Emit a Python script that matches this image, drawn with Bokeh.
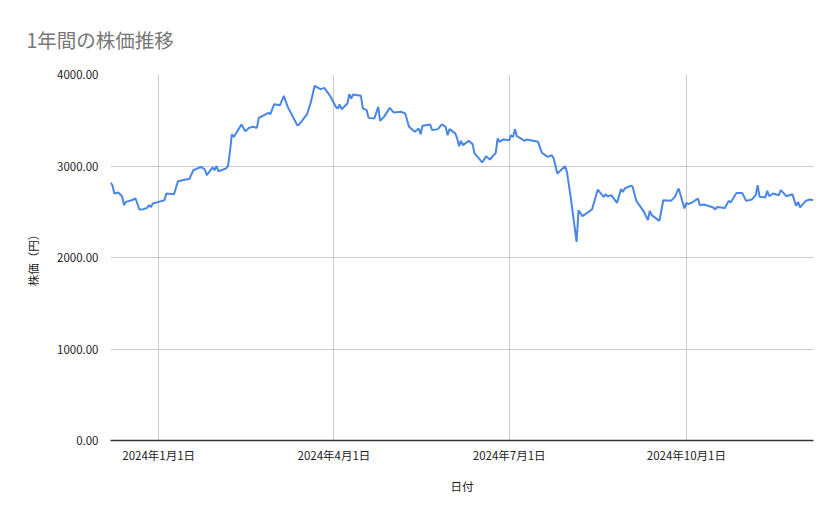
from datetime import datetime
import pandas as pd
from bokeh.plotting import figure
from bokeh.models import Range1d, FixedTicker, NumeralTickFormatter, ColumnDataSource
from bokeh.embed import file_html
from bokeh.resources import INLINE

title_text = "1年間の株価推移"
x_title = "日付"
y_title = "株価（円）"

dates = [
    "2023-12-07", "2023-12-08", "2023-12-09", "2023-12-11", "2023-12-13", "2023-12-14", "2023-12-15",
    "2023-12-18", "2023-12-20", "2023-12-22", "2023-12-24", "2023-12-26", "2023-12-27", "2023-12-28",
    "2023-12-29", "2024-01-01", "2024-01-04", "2024-01-05", "2024-01-09", "2024-01-11", "2024-01-15",
    "2024-01-17", "2024-01-19", "2024-01-23", "2024-01-25", "2024-01-26", "2024-01-29", "2024-01-30",
    "2024-01-31", "2024-02-01", "2024-02-05", "2024-02-06", "2024-02-07", "2024-02-08", "2024-02-09",
    "2024-02-13", "2024-02-15", "2024-02-17", "2024-02-19", "2024-02-21", "2024-02-22", "2024-02-27",
    "2024-02-28", "2024-03-01", "2024-03-04", "2024-03-06", "2024-03-08", "2024-03-13", "2024-03-14",
    "2024-03-18", "2024-03-20", "2024-03-22", "2024-03-25", "2024-03-27", "2024-03-30", "2024-04-02",
    "2024-04-03", "2024-04-04", "2024-04-05", "2024-04-08", "2024-04-09", "2024-04-10", "2024-04-11",
    "2024-04-15", "2024-04-16", "2024-04-18", "2024-04-19", "2024-04-22", "2024-04-24", "2024-04-25",
    "2024-04-27", "2024-04-30", "2024-05-02", "2024-05-06", "2024-05-08", "2024-05-10", "2024-05-13",
    "2024-05-15", "2024-05-16", "2024-05-17", "2024-05-21", "2024-05-22", "2024-05-25", "2024-05-27",
    "2024-05-29", "2024-05-30", "2024-05-31", "2024-06-03", "2024-06-04", "2024-06-05", "2024-06-06",
    "2024-06-07", "2024-06-10", "2024-06-12", "2024-06-13", "2024-06-17", "2024-06-19", "2024-06-21",
    "2024-06-24", "2024-06-25", "2024-06-26", "2024-06-28", "2024-07-01", "2024-07-02", "2024-07-03",
    "2024-07-04", "2024-07-05", "2024-07-09", "2024-07-10", "2024-07-16", "2024-07-18", "2024-07-21",
    "2024-07-23", "2024-07-24", "2024-07-26", "2024-07-30", "2024-07-31", "2024-08-02", "2024-08-05",
    "2024-08-06", "2024-08-08", "2024-08-13", "2024-08-16", "2024-08-19", "2024-08-20", "2024-08-21",
    "2024-08-23", "2024-08-26", "2024-08-28", "2024-08-29", "2024-08-30", "2024-09-02", "2024-09-03",
    "2024-09-05", "2024-09-09", "2024-09-11", "2024-09-12", "2024-09-13", "2024-09-17", "2024-09-19",
    "2024-09-23", "2024-09-25", "2024-09-27", "2024-09-30", "2024-10-01", "2024-10-02", "2024-10-04",
    "2024-10-07", "2024-10-08", "2024-10-10", "2024-10-15", "2024-10-16", "2024-10-17", "2024-10-21",
    "2024-10-23", "2024-10-24", "2024-10-27", "2024-10-30", "2024-11-01", "2024-11-04", "2024-11-06",
    "2024-11-07", "2024-11-08", "2024-11-11", "2024-11-12", "2024-11-13", "2024-11-15", "2024-11-18",
    "2024-11-19", "2024-11-22", "2024-11-25", "2024-11-27", "2024-11-28", "2024-11-29", "2024-12-02",
    "2024-12-04", "2024-12-06",
]

prices = [
    2820, 2790, 2700, 2711, 2670, 2572, 2608,
    2626, 2645, 2525, 2528, 2542, 2572, 2553,
    2590, 2608, 2626, 2700, 2692, 2834, 2853,
    2859, 2954, 2990, 2962, 2900, 2984, 2954,
    2998, 2943, 2973, 2998, 3154, 3345, 3318,
    3454, 3381, 3417, 3428, 3417, 3526, 3581,
    3567, 3676, 3665, 3767, 3646, 3446, 3454,
    3563, 3694, 3876, 3840, 3854, 3767, 3646,
    3629, 3672, 3621, 3683, 3785, 3738, 3782,
    3767, 3629, 3610, 3526, 3519, 3646, 3493,
    3537, 3635, 3585, 3592, 3574, 3428, 3373,
    3410, 3348, 3439, 3454, 3392, 3403, 3454,
    3428, 3337, 3403, 3356, 3301, 3217, 3275,
    3228, 3275, 3239, 3137, 3039, 3107, 3071,
    3143, 3301, 3264, 3290, 3282, 3337, 3318,
    3403, 3326, 3275, 3290, 3264, 3143, 3100,
    3118, 3089, 2918, 2998, 2936, 2650, 2171,
    2517, 2452, 2525, 2743, 2663, 2692, 2670,
    2681, 2597, 2747, 2717, 2754, 2783, 2780,
    2619, 2499, 2408, 2510, 2463, 2400, 2626,
    2619, 2663, 2754, 2536, 2597, 2583, 2601,
    2645, 2572, 2579, 2547, 2525, 2553, 2542,
    2619, 2601, 2706, 2706, 2619, 2634, 2681,
    2790, 2663, 2656, 2728, 2670, 2700, 2681,
    2736, 2670, 2692, 2564, 2608, 2547, 2619,
    2634, 2626,
]

y_ticks = [0, 1000, 2000, 3000, 4000]
x_tick_dates = ["2024-01-01", "2024-04-01", "2024-07-01", "2024-10-01"]
x_tick_labels = ["2024年1月1日", "2024年4月1日", "2024年7月1日", "2024年10月1日"]
x_start = "2023-12-07"
x_end = "2024-12-06"

JP = "Noto Sans CJK JP"

src = ColumnDataSource(dict(date=pd.to_datetime(dates), price=prices))

p = figure(
    width=823, height=503,
    x_axis_type="datetime",
    output_backend="svg",
    toolbar_location=None,
    min_border_left=110, min_border_right=10,
    min_border_top=74, min_border_bottom=63,
    x_range=Range1d(pd.Timestamp(x_start), pd.Timestamp(x_end)),
    y_range=Range1d(0, 4000),
)
p.outline_line_color = None

p.title.text = title_text
p.title.align = "left"
p.title.offset = -84
p.title.text_font = JP
p.title.text_font_size = "19.5px"
p.title.text_font_style = "normal"
p.title.text_color = "#777777"
p.title.vertical_align = "bottom"
p.title.standoff = 42

p.line("date", "price", source=src, line_color="#4a86e8", line_width=2)

tick_ms = [pd.Timestamp(d).value / 1e6 for d in x_tick_dates]
p.xaxis.ticker = FixedTicker(ticks=tick_ms)
p.xaxis.major_label_overrides = {t: lab for t, lab in zip(tick_ms, x_tick_labels)}
p.yaxis.ticker = FixedTicker(ticks=y_ticks)
p.yaxis.formatter = NumeralTickFormatter(format="0.00")

for ax in (p.xaxis, p.yaxis):
    ax.major_tick_line_color = None
    ax.minor_tick_line_color = None
    ax.major_label_text_font = JP
    ax.major_label_text_font_size = "11.5px"
    ax.major_label_text_color = "#222222"
    ax.axis_label_text_font = JP
    ax.axis_label_text_font_size = "11.5px"
    ax.axis_label_text_font_style = "normal"
    ax.axis_label_text_color = "#222222"

p.xaxis.axis_label = x_title
p.yaxis.axis_label = y_title
p.xaxis.axis_line_color = "#333333"
p.xaxis.axis_line_width = 1.5
p.yaxis.axis_line_color = None
p.xaxis.major_label_standoff = 0
p.yaxis.major_label_standoff = 6
p.xaxis.axis_label_standoff = 12
p.yaxis.axis_label_standoff = 13

p.xgrid.grid_line_color = "#cccccc"
p.ygrid.grid_line_color = "#cccccc"
p.xgrid.grid_line_width = 1
p.ygrid.grid_line_width = 1

open("out.html", "w").write(file_html(p, INLINE))
